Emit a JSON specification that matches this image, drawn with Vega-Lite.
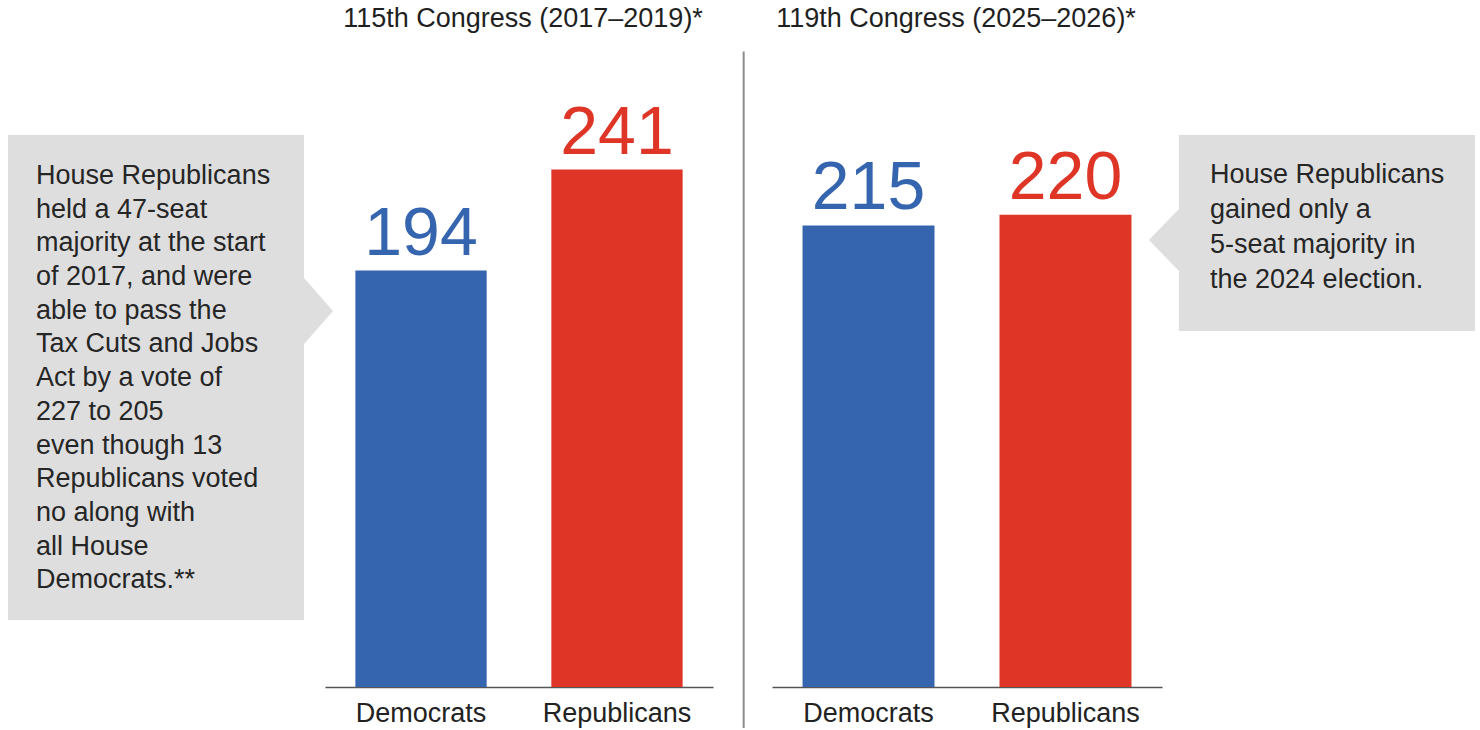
{
  "$schema": "https://vega.github.io/schema/vega-lite/v6.json",
  "padding": 0,
  "background": "white",
  "spacing": 0,
  "bounds": "flush",
  "config": {"view": {"stroke": null}, "font": "Liberation Sans"},
  "datasets": {
    "seats": [
      {"congress": "115th Congress (2017–2019)*", "party": "Democrats", "seats": 194},
      {"congress": "115th Congress (2017–2019)*", "party": "Republicans", "seats": 241},
      {"congress": "119th Congress (2025–2026)*", "party": "Democrats", "seats": 215},
      {"congress": "119th Congress (2025–2026)*", "party": "Republicans", "seats": 220}
    ],
    "notes": [
      {"side": "left", "lines": ["House Republicans", "held a 47-seat", "majority at the start", "of 2017, and were", "able to pass the", "Tax Cuts and Jobs", "Act by a vote of", "227 to 205", "even though 13", "Republicans voted", "no along with", "all House", "Democrats.**"]},
      {"side": "right", "lines": ["House Republicans", "gained only a", "5-seat majority in", "the 2024 election."]}
    ]
  },
  "hconcat": [
    {
      "width": 325,
      "height": 687,
      "data": {"name": "notes"},
      "transform": [{"filter": "datum.side === 'left'"}],
      "layer": [
        {
          "mark": {"type": "rect", "color": "#dedede"},
          "encoding": {
            "x": {"datum": 2.46, "type": "quantitative", "scale": {"domain": [0, 100], "nice": false, "zero": false}, "axis": null},
            "x2": {"datum": 93.54},
            "y": {"datum": 257.1, "type": "quantitative", "scale": {"domain": [0, 320], "nice": false}, "axis": null},
            "y2": {"datum": 31.2}
          }
        },
        {
          "mark": {"type": "point", "shape": "M0,-1L0.88,0L0,1Z", "size": 4356, "filled": true, "opacity": 1, "color": "#dedede", "strokeWidth": 0},
          "encoding": {
            "x": {"datum": 93.54, "type": "quantitative"},
            "y": {"datum": 175.1, "type": "quantitative"}
          }
        },
        {
          "mark": {"type": "text", "align": "left", "baseline": "alphabetic", "fontSize": 27, "lineHeight": 33.7, "color": "#262626"},
          "encoding": {
            "x": {"datum": 11.08, "type": "quantitative"},
            "y": {"datum": 234.3, "type": "quantitative"},
            "text": {"field": "lines"}
          }
        }
      ]
    },
    {
      "width": 388,
      "height": 687,
      "data": {"name": "seats"},
      "transform": [{"filter": "datum.congress === '115th Congress (2017–2019)*'"}],
      "layer": [
        {
          "mark": {"type": "bar"},
          "encoding": {
            "x": {"field": "party", "type": "nominal", "sort": ["Democrats", "Republicans"], "scale": {"paddingInner": 0.33, "paddingOuter": 0.155}, "title": null,
                  "axis": {"ticks": false, "grid": false, "domainColor": "#555555", "domainWidth": 1.5, "labelFontSize": 27, "labelColor": "#222222", "labelPadding": 13, "labelAngle": 0, "labelFont": "Liberation Sans"}},
            "y": {"field": "seats", "type": "quantitative", "scale": {"domain": [0, 320], "nice": false}, "axis": null},
            "color": {"field": "party", "type": "nominal", "scale": {"domain": ["Democrats", "Republicans"], "range": ["#3465ae", "#de3526"]}, "legend": null}
          }
        },
        {
          "mark": {"type": "text", "baseline": "alphabetic", "dy": -16, "fontSize": 68, "align": "center"},
          "encoding": {
            "x": {"field": "party", "type": "nominal", "sort": ["Democrats", "Republicans"]},
            "y": {"field": "seats", "type": "quantitative"},
            "text": {"field": "seats", "type": "quantitative"},
            "color": {"field": "party", "type": "nominal", "legend": null}
          }
        },
        {
          "transform": [{"aggregate": [{"op": "count", "as": "n"}], "groupby": ["congress"]}],
          "mark": {"type": "text", "baseline": "alphabetic", "align": "center", "fontSize": 27, "dx": 4, "color": "#1f1f1f"},
          "encoding": {
            "y": {"datum": 307.2, "type": "quantitative"},
            "text": {"field": "congress", "type": "nominal"}
          }
        }
      ]
    },
    {
      "width": 59,
      "height": 687,
      "data": {"values": [{}]},
      "mark": {"type": "rule", "color": "#8c8c8c", "strokeWidth": 2},
      "encoding": {
        "x": {"datum": 0.52, "type": "quantitative", "scale": {"domain": [0, 1], "nice": false, "zero": false}, "axis": null},
        "y": {"datum": 296, "type": "quantitative", "scale": {"domain": [0, 320], "nice": false}, "axis": null},
        "y2": {"datum": -19.1}
      }
    },
    {
      "width": 390,
      "height": 687,
      "data": {"name": "seats"},
      "transform": [{"filter": "datum.congress === '119th Congress (2025–2026)*'"}],
      "layer": [
        {
          "mark": {"type": "bar"},
          "encoding": {
            "x": {"field": "party", "type": "nominal", "sort": ["Democrats", "Republicans"], "scale": {"paddingInner": 0.33, "paddingOuter": 0.155}, "title": null,
                  "axis": {"ticks": false, "grid": false, "domainColor": "#555555", "domainWidth": 1.5, "labelFontSize": 27, "labelColor": "#222222", "labelPadding": 13, "labelAngle": 0, "labelFont": "Liberation Sans"}},
            "y": {"field": "seats", "type": "quantitative", "scale": {"domain": [0, 320], "nice": false}, "axis": null},
            "color": {"field": "party", "type": "nominal", "scale": {"domain": ["Democrats", "Republicans"], "range": ["#3465ae", "#de3526"]}, "legend": null}
          }
        },
        {
          "mark": {"type": "text", "baseline": "alphabetic", "dy": -16, "fontSize": 68, "align": "center"},
          "encoding": {
            "x": {"field": "party", "type": "nominal", "sort": ["Democrats", "Republicans"]},
            "y": {"field": "seats", "type": "quantitative"},
            "text": {"field": "seats", "type": "quantitative"},
            "color": {"field": "party", "type": "nominal", "legend": null}
          }
        },
        {
          "transform": [{"aggregate": [{"op": "count", "as": "n"}], "groupby": ["congress"]}],
          "mark": {"type": "text", "baseline": "alphabetic", "align": "center", "fontSize": 27, "dx": -11, "color": "#1f1f1f"},
          "encoding": {
            "y": {"datum": 307.2, "type": "quantitative"},
            "text": {"field": "congress", "type": "nominal"}
          }
        }
      ]
    },
    {
      "width": 318,
      "height": 687,
      "data": {"name": "notes"},
      "transform": [{"filter": "datum.side === 'right'"}],
      "layer": [
        {
          "mark": {"type": "rect", "color": "#dedede"},
          "encoding": {
            "x": {"datum": 5.35, "type": "quantitative", "scale": {"domain": [0, 100], "nice": false, "zero": false}, "axis": null},
            "x2": {"datum": 98.4},
            "y": {"datum": 257.1, "type": "quantitative", "scale": {"domain": [0, 320], "nice": false}, "axis": null},
            "y2": {"datum": 165.8}
          }
        },
        {
          "mark": {"type": "point", "shape": "M0,-1L-0.97,0L0,1Z", "size": 3844, "filled": true, "opacity": 1, "color": "#dedede", "strokeWidth": 0},
          "encoding": {
            "x": {"datum": 5.35, "type": "quantitative"},
            "y": {"datum": 208.2, "type": "quantitative"}
          }
        },
        {
          "mark": {"type": "text", "align": "left", "baseline": "alphabetic", "fontSize": 27, "lineHeight": 35, "color": "#262626"},
          "encoding": {
            "x": {"datum": 15.1, "type": "quantitative"},
            "y": {"datum": 234.7, "type": "quantitative"},
            "text": {"field": "lines"}
          }
        }
      ]
    }
  ]
}
